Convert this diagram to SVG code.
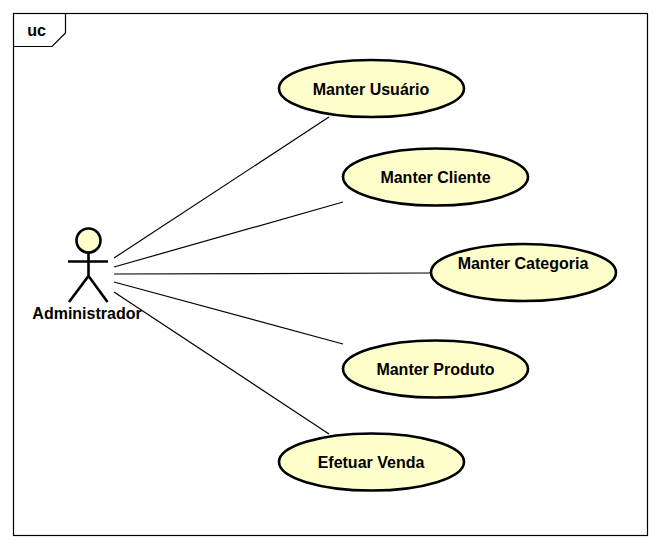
<svg xmlns="http://www.w3.org/2000/svg" width="661" height="548" viewBox="0 0 661 548">
<style>
text{font-family:"Liberation Sans",Arial,sans-serif;font-weight:bold;font-size:16px;fill:#000;text-anchor:middle}
.uc{fill:#ffffcc;stroke:#000;stroke-width:2.6}
.c{stroke:#000;stroke-width:1.2;fill:none}
.a{stroke:#000;stroke-width:2.6;fill:none}
.f{stroke:#000;stroke-width:1.2;fill:none}
</style>
<rect width="661" height="548" fill="#fff"/>
<g id="frame">
<rect class="f" x="13.5" y="13.5" width="634" height="522"/>
<path class="f" d="M65.5 13.5V33L52 46.500H13.5"/>
<text x="36.500" y="36">uc</text>
</g>
<g id="connectors">
<line class="c" x1="114" y1="258" x2="329" y2="117"/>
<line class="c" x1="114" y1="267" x2="343" y2="202"/>
<line class="c" x1="114" y1="274" x2="430" y2="273"/>
<line class="c" x1="114" y1="282" x2="343" y2="344"/>
<line class="c" x1="114" y1="292" x2="329" y2="434"/>
</g>
<g id="actor">
<circle class="uc" cx="88.500" cy="240.500" r="12"/>
<path class="a" d="M88.500 252.500V276M68 261.500H108M69 302L88.500 276L107.500 302"/>
<text x="87" y="319">Administrador</text>
</g>
<g id="uc1"><ellipse class="uc" cx="371.500" cy="88.500" rx="92.500" ry="28.500"/><text x="371" y="94.500">Manter Usuário</text></g>
<g id="uc2"><ellipse class="uc" cx="435.500" cy="177" rx="92.500" ry="28.500"/><text x="435.500" y="182.500">Manter Cliente</text></g>
<g id="uc3"><ellipse class="uc" cx="523.500" cy="272.500" rx="92.500" ry="28.500"/><text x="523" y="268.500">Manter Categoria</text></g>
<g id="uc4"><ellipse class="uc" cx="435.500" cy="369" rx="92.500" ry="28.500"/><text x="435.500" y="374.500">Manter Produto</text></g>
<g id="uc5"><ellipse class="uc" cx="371.500" cy="462" rx="92.500" ry="28.500"/><text x="371" y="467.500">Efetuar Venda</text></g>
</svg>
